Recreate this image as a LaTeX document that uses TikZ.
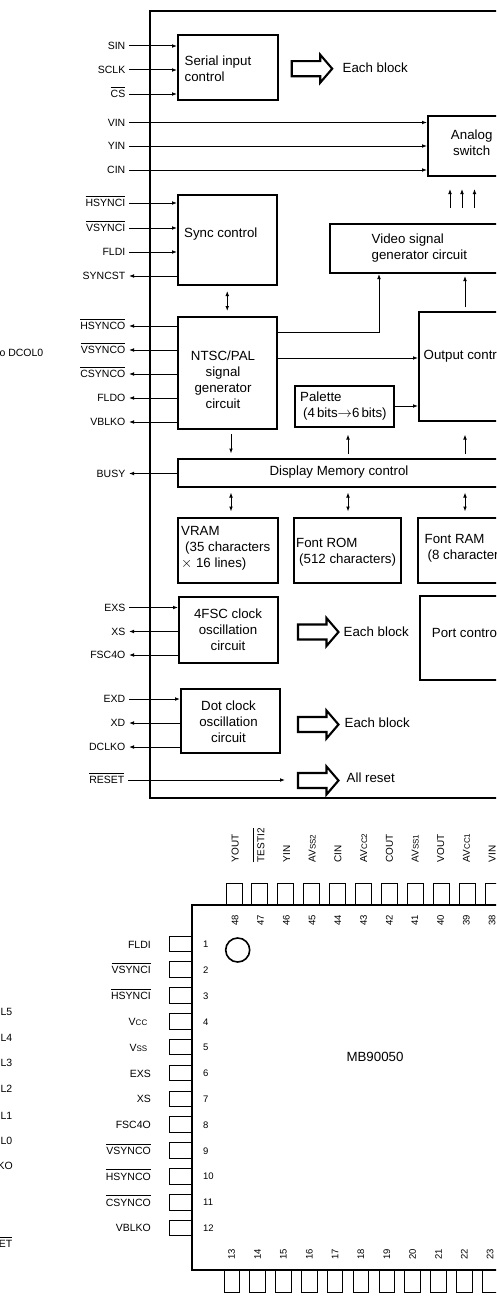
\documentclass[tikz,border=0pt]{standalone}
\usepackage{fontspec}
\setmainfont{Liberation Sans}
\usetikzlibrary{arrows.meta,fit}
\newcommand{\ol}[1]{\setbox0\hbox{#1}\rlap{\rule[10.2pt]{\wd0}{0.75pt}}\box0}
\newcommand{\smc}[1]{{\fontsize{8}{8}\selectfont #1}}
\newcommand{\bigarrow}[2]{\draw[hollow] (#1,#2-7.5) -- ++(28.5,0) -- ++(0,-6.5) -- ++(12,14) -- ++(-12,14) -- ++(0,-6.5) -- ++(-28.5,0) -- cycle;}
\tikzset{
  blk/.style={draw,line width=2pt,inner sep=0pt,fill=none},
  hollow/.style={draw,line width=2.1pt,miter limit=10},
  wire/.style={line width=1pt},
  arr/.style={wire,-{Latex[length=5pt,width=3.8pt]}},
  darr/.style={wire,{Latex[length=5pt,width=3.8pt]}-{Latex[length=5pt,width=3.8pt]}},
  txt/.style={inner sep=0pt,yshift=-1pt,font=\fontsize{13.3}{16}\selectfont,align=left},
  ctxt/.style={inner sep=0pt,yshift=-1pt,font=\fontsize{13.3}{16}\selectfont,align=center},
  sig/.style={anchor=east,inner ysep=0pt,inner xsep=3.5pt,font=\fontsize{10.5}{12}\selectfont,text height=7.6pt,text depth=0pt},
  pinlab/.style={anchor=east,inner sep=0pt,font=\fontsize{10.5}{12}\selectfont,text height=7.6pt,text depth=0pt},
  toplab/.style={rotate=90,anchor=west,inner sep=0pt,font=\fontsize{10}{12}\selectfont,text height=7.2pt,text depth=0pt},
  num/.style={inner sep=0pt,font=\fontsize{9.5}{11}\selectfont},
  pinbox/.style={draw,line width=1pt},
}
\begin{document}
\begin{tikzpicture}[x=1pt,y=-1pt]
\useasboundingbox (0,0) rectangle (496,1306);
\clip (0,0) rectangle (496,1306);
\fill[white] (0,0) rectangle (496,1306);

% ---------- block diagram ----------
\node[blk,fit={(150,11.5)(540,798)}] (outer) {};
\node[blk,fit={(178,35)(277.5,100)}] (serial) {};
\node[blk,fit={(428,116)(516,176)}] (analog) {};
\node[blk,fit={(178,195)(276.5,285)}] (sync) {};
\node[blk,fit={(178,317)(276.5,429)}] (ntsc) {};
\node[blk,fit={(330,223.5)(520,273)}] (video) {};
\node[blk,fit={(419,312)(520,420.5)}] (output) {};
\node[blk,fit={(295,386)(394,426.5)}] (palette) {};
\node[blk,fit={(178,458.5)(520,486.5)}] (disp) {};
\node[blk,fit={(178,517.5)(277.5,583)}] (vram) {};
\node[blk,fit={(294,517.5)(401,583)}] (from) {};
\node[blk,fit={(418,517.5)(520,583)}] (fram) {};
\node[blk,fit={(179,597)(278,662.5)}] (fsc) {};
\node[blk,fit={(420,596)(520,680)}] (port) {};
\node[blk,fit={(181,688.5)(280,753)}] (dot) {};

% block texts
\node[txt,anchor=west] (tserial) at (184.5,67.5) {Serial input\\control};
\node[ctxt] (tanalog) at (471.7,141.5) {Analog\\switch};
\node[txt,anchor=west] (tsync) at (184,233.5) {Sync control};
\node[txt,anchor=west] (tvideo) at (371.5,247) {Video signal\\generator circuit};
\node[ctxt] (tntsc) at (223,379) {NTSC/PAL\\signal\\generator\\circuit};
\node[txt,anchor=west] (toutput) at (423.5,355) {Output control};
\node[txt,anchor=west] (tpal) at (300,405) {Palette\\\hspace{3pt}(4\hspace{2pt}bits$\rightarrow$6\hspace{2pt}bits)};
\node[ctxt] (tdisp) at (339,471.5) {Display Memory control};
\node[txt,anchor=west] (tvram) at (181,547) {VRAM\\\hspace{4pt}(35 characters\\$\times$ 16 lines)};
\node[txt,anchor=west] (tfrom) at (296,551) {Font ROM\\\hspace{3pt}(512 characters)};
\node[txt,anchor=west] (tfram) at (424.5,547) {Font RAM\\\hspace{3pt}(8 characters)};
\node[ctxt] (tfsc) at (228,628.5) {4FSC clock\\oscillation\\circuit};
\node[txt,anchor=west] (tport) at (431.7,632) {Port control};
\node[ctxt] (tdot) at (228.5,720.5) {Dot clock\\oscillation\\circuit};

% hollow arrows with texts
\bigarrow{291.7}{68.7}
\node[txt,anchor=west] (each1) at (342.5,66.5) {Each block};
\bigarrow{298}{632}
\node[txt,anchor=west] (each2) at (343.5,630.5) {Each block};
\bigarrow{298}{724.5}
\node[txt,anchor=west] (each3) at (344.5,722) {Each block};
\bigarrow{298}{780.5}
\node[txt,anchor=west] (allreset) at (346.5,777) {All reset};

% signal labels
\node[sig] (sSIN) at (129,46) {SIN};
\node[sig] (sSCLK) at (129,70) {SCLK};
\node[sig] (sCS) at (129,94) {\ol{CS}};
\node[sig] (sVIN) at (129,122.5) {VIN};
\node[sig] (sYIN) at (129,146) {YIN};
\node[sig] (sCIN) at (129,170) {CIN};
\node[sig] (sHSI) at (129,203) {\ol{HSYNCI}};
\node[sig] (sVSI) at (129,228) {\ol{VSYNCI}};
\node[sig] (sFLDI) at (129,252) {FLDI};
\node[sig] (sSYN) at (129,276) {SYNCST};
\node[sig] (sHSO) at (129,326) {\ol{HSYNCO}};
\node[sig] (sVSO) at (129,350) {\ol{VSYNCO}};
\node[sig] (sCSO) at (129,374) {\ol{CSYNCO}};
\node[sig] (sFLDO) at (129,398) {FLDO};
\node[sig] (sVBL) at (129,422) {VBLKO};
\node[sig] (sBUSY) at (129,473.5) {BUSY};
\node[sig] (sEXS) at (129,607.5) {EXS};
\node[sig] (sXS) at (129,631.5) {XS};
\node[sig] (sFSC) at (129,655) {FSC4O};
\node[sig] (sEXD) at (129,699) {EXD};
\node[sig] (sXD) at (129,723) {XD};
\node[sig] (sDCK) at (129,747) {DCLKO};
\node[sig] (sRST) at (128,780) {\ol{RESET}};

% inputs
\draw[arr] (sSIN.east) -- (serial.west |- sSIN.east);
\draw[arr] (sSCLK.east) -- (serial.west |- sSCLK.east);
\draw[arr] (sCS.east) -- (serial.west |- sCS.east);
\draw[arr] (sVIN.east) -- (analog.west |- sVIN.east);
\draw[arr] (sYIN.east) -- (analog.west |- sYIN.east);
\draw[arr] (sCIN.east) -- (analog.west |- sCIN.east);
\draw[arr] (sHSI.east) -- (sync.west |- sHSI.east);
\draw[arr] (sVSI.east) -- (sync.west |- sVSI.east);
\draw[arr] (sFLDI.east) -- (sync.west |- sFLDI.east);
\draw[arr] (sEXS.east) -- (fsc.west |- sEXS.east);
\draw[arr] (sEXD.east) -- (dot.west |- sEXD.east);
\coordinate (rstend) at (285,780);
\draw[arr] (sRST.east) -- (rstend);
% outputs
\draw[arr] (sync.west |- sSYN.east) -- (sSYN.east);
\draw[arr] (ntsc.west |- sHSO.east) -- (sHSO.east);
\draw[arr] (ntsc.west |- sVSO.east) -- (sVSO.east);
\draw[arr] (ntsc.west |- sCSO.east) -- (sCSO.east);
\draw[arr] (ntsc.west |- sFLDO.east) -- (sFLDO.east);
\draw[arr] (ntsc.west |- sVBL.east) -- (sVBL.east);
\draw[arr] (disp.west |- sBUSY.east) -- (sBUSY.east);
\draw[arr] (fsc.west |- sXS.east) -- (sXS.east);
\draw[arr] (fsc.west |- sFSC.east) -- (sFSC.east);
\draw[arr] (dot.west |- sXD.east) -- (sXD.east);
\draw[arr] (dot.west |- sDCK.east) -- (sDCK.east);

% internal connectors
\coordinate (x231) at (231,0);
\coordinate (x348) at (348,0);
\coordinate (x465) at (465,0);
\coordinate (x379) at (379,0);
\coordinate (y332) at (0,332);
\coordinate (y358) at (0,358);
\coordinate (y406) at (0,406);
\coordinate (up1) at (450,208); \coordinate (up1e) at (450,189);
\coordinate (up2) at (462,208); \coordinate (up2e) at (462,189);
\coordinate (up3) at (474.5,208); \coordinate (up3e) at (474.5,189);
\draw[arr] (up1) -- (up1e);
\draw[arr] (up2) -- (up2e);
\draw[arr] (up3) -- (up3e);
\draw[darr,shorten >=5pt,shorten <=5pt] (sync.south) -- (ntsc.north);
\draw[arr] (ntsc.east |- y332) -- (x379 |- y332) -- (x379 |- video.south);
\draw[arr] (ntsc.east |- y358) -- (output.west |- y358);
\draw[arr] (palette.east |- y406) -- (output.west |- y406);
\draw[arr,shorten >=2pt,shorten <=4pt] (x465 |- output.north) -- (x465 |- video.south);
\draw[arr,shorten >=4pt,shorten <=4pt] (x231 |- ntsc.south) -- (x231 |- disp.north);
\draw[arr,shorten >=7pt,shorten <=4pt] (x348 |- disp.north) -- (x348 |- palette.south);
\draw[arr,shorten >=13pt,shorten <=4pt] (x465 |- disp.north) -- (x465 |- output.south);
\draw[darr,shorten >=5pt,shorten <=5pt] (x231 |- disp.south) -- (x231 |- vram.north);
\draw[darr,shorten >=5pt,shorten <=5pt] (x348 |- disp.south) -- (x348 |- from.north);
\draw[darr,shorten >=5pt,shorten <=5pt] (x465 |- disp.south) -- (x465 |- fram.north);

% clipped texts at the left edge
\node[pinlab] (tdcol) at (43.5,353) {o DCOL0};
\node[pinlab] (e1) at (12.5,1012) {L5};
\node[pinlab] (e2) at (12.5,1037.5) {L4};
\node[pinlab] (e3) at (12.5,1063) {L3};
\node[pinlab] (e4) at (12.5,1089) {L2};
\node[pinlab] (e5) at (12.5,1115.5) {L1};
\node[pinlab] (e6) at (12.5,1141) {L0};
\node[pinlab] (e7) at (13,1166) {KO};
\node[pinlab] (e8) at (12.5,1244) {\ol{ET}};

% ---------- package ----------
\foreach \i in {0,...,10}{
  \draw[pinbox] (226+25.9*\i,905) -- (226+25.9*\i,883) -- (242+25.9*\i,883) -- (242+25.9*\i,905);
  \draw[pinbox] (224+25.85*\i,1270) -- (224+25.85*\i,1292) -- (239.5+25.85*\i,1292) -- (239.5+25.85*\i,1270);
}
\foreach \i in {0,...,11}{
  \draw[pinbox] (192,936+25.85*\i) -- (169.5,936+25.85*\i) -- (169.5,951.5+25.85*\i) -- (192,951.5+25.85*\i);
}
\node[blk,fit={(192,905)(540,1270)}] (chip) {};
\node[draw,circle,line width=1.6pt,minimum size=24pt,inner sep=0pt] (dotmark) at (237.7,950) {};
\node[ctxt] (chipname) at (375,1056) {MB90050};

\foreach \i/\n in {0/48,1/47,2/46,3/45,4/44,5/43,6/42,7/41,8/40,9/39,10/38}
  \node[num,rotate=90] (nt\n) at (235+25.7*\i,920) {\n};
\foreach \i/\n in {0/13,1/14,2/15,3/16,4/17,5/18,6/19,7/20,8/21,9/22,10/23}
  \node[num,rotate=90] (nb\n) at (231.7+25.85*\i,1254) {\n};
\foreach \i/\n in {0/1,1/2,2/3,3/4,4/5,5/6,6/7,7/8,8/9,9/10,10/11,11/12}
  \node[num,anchor=west] (nl\n) at (203,944.5+25.8*\i) {\n};

\node[pinlab] (p1) at (151,944.3) {FLDI};
\node[pinlab] (p2) at (151,970.1) {\ol{VSYNCI}};
\node[pinlab] (p3) at (151,995.9) {\ol{HSYNCI}};
\node[pinlab] (p4) at (147.5,1021.7) {V\smc{CC}};
\node[pinlab] (p5) at (147.5,1047.5) {V\smc{SS}};
\node[pinlab] (p6) at (151,1073.3) {EXS};
\node[pinlab] (p7) at (151,1099.1) {XS};
\node[pinlab] (p8) at (151,1124.9) {FSC4O};
\node[pinlab] (p9) at (151,1150.7) {\ol{VSYNCO}};
\node[pinlab] (p10) at (151,1176.5) {\ol{HSYNCO}};
\node[pinlab] (p11) at (151,1202.3) {\ol{CSYNCO}};
\node[pinlab] (p12) at (151,1228.1) {VBLKO};

\node[toplab] (q48) at (235,862.5) {YOUT};
\node[toplab] (q47) at (260.7,862.5) {\ol{TESTI2}};
\node[toplab] (q46) at (286.4,862.5) {YIN};
\node[toplab] (q45) at (312.1,862.5) {AV\smc{SS2}};
\node[toplab] (q44) at (337.8,862.5) {CIN};
\node[toplab] (q43) at (363.5,862.5) {AV\smc{CC2}};
\node[toplab] (q42) at (389.2,862.5) {COUT};
\node[toplab] (q41) at (414.9,862.5) {AV\smc{SS1}};
\node[toplab] (q40) at (440.6,862.5) {VOUT};
\node[toplab] (q39) at (466.3,862.5) {AV\smc{CC1}};
\node[toplab] (q38) at (492,862.5) {VIN};
\end{tikzpicture}
\end{document}
